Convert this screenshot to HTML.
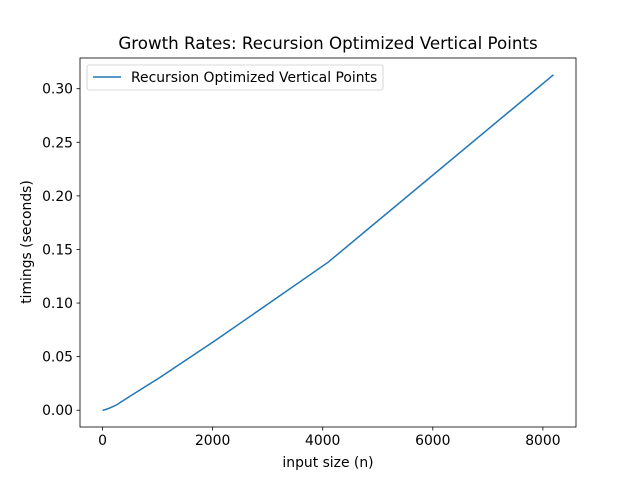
<!DOCTYPE html>
<html><head><meta charset="utf-8"><style>
body{margin:0;background:#fff;font-family:"DejaVu Sans","Liberation Sans",sans-serif;}
</style></head><body>
<svg id="chart" width="640" height="480" xmlns="http://www.w3.org/2000/svg"></svg>
<script>
const xValues=[1,2,4,8,16,32,64,128,256,512,1024,2048,4096,8192];
const yValues=[0,0,0,0,0.0001,0.0003,0.0008,0.002,0.005,0.0135,0.030,0.065,0.138,0.313];
const xTicks=[0,2000,4000,6000,8000];
const yTicks=[0,0.05,0.10,0.15,0.20,0.25,0.30];
const yTickLabels=["0.00","0.05","0.10","0.15","0.20","0.25","0.30"];
const seriesName="Recursion Optimized Vertical Points";
const L=80,R=576,T=58,B=427;
const xmin=-409.55,xmax=8601.55,ymin=-0.01565,ymax=0.32865;
const sx=v=>L+(v-xmin)/(xmax-xmin)*(R-L);
const sy=v=>B-(v-ymin)/(ymax-ymin)*(B-T);
const svg=document.getElementById('chart');
const NS="http://www.w3.org/2000/svg";
function mk(tag,attrs,text){const e=document.createElementNS(NS,tag);for(const k in attrs)e.setAttribute(k,attrs[k]);if(text!==undefined)e.textContent=text;svg.appendChild(e);return e;}
let e;
e=mk('rect',{x:L,y:T,width:R-L,height:B-T,fill:'#fff',stroke:'#000','stroke-width':0.8});


xTicks.forEach(t=>{const x=sx(t);
e=mk('line',{x1:x,x2:x,y1:B,y2:B+3.5,stroke:'#000','stroke-width':0.8});


e=mk('text',{x:x,y:B+18,'text-anchor':'middle','font-size':13.9},String(t));

});
yTicks.forEach((t,i)=>{const y=sy(t);
e=mk('line',{x1:L-3.5,x2:L,y1:y,y2:y,stroke:'#000','stroke-width':0.8});


e=mk('text',{x:L-7,y:y+5,'text-anchor':'end','font-size':13.9},yTickLabels[i]);

});
const pts=xValues.map((v,i)=>sx(v).toFixed(2)+','+sy(yValues[i]).toFixed(2)).join(' ');
e=mk('polyline',{points:pts,fill:'none',stroke:'#1f77b4','stroke-width':1.5});


e=mk('text',{x:328,y:49,'text-anchor':'middle','font-size':16.7},"Growth Rates: "+seriesName);


e=mk('text',{x:328,y:467,'text-anchor':'middle','font-size':13.9},"input size (n)");


e=mk('text',{x:31,y:242,'text-anchor':'middle','font-size':13.9,transform:'rotate(-90 31 242)'},"timings (seconds)");


e=mk('rect',{x:87,y:65,width:296,height:25,rx:2,fill:'#fff',stroke:'#ccc','stroke-width':0.8});


e=mk('line',{x1:93,x2:121,y1:77,y2:77,stroke:'#1f77b4','stroke-width':1.5});


e=mk('text',{x:131,y:82,'font-size':13.9},seriesName);


</script>
</body></html>
